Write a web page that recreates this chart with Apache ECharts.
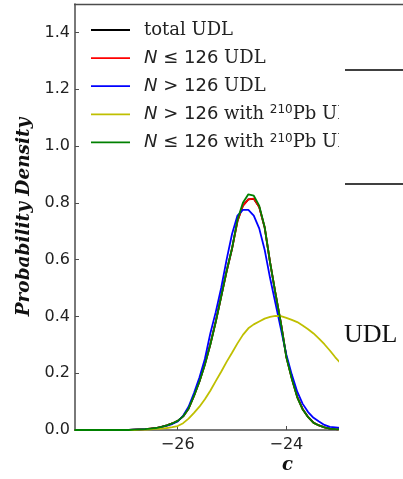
<!DOCTYPE html>
<html>
<head>
<meta charset="utf-8">
<script src="https://cdn.jsdelivr.net/npm/echarts@6/dist/echarts.min.js"></script>
<style>
  html, body { margin: 0; padding: 0; background: #fff; }
  #main { width: 403px; height: 479px; }
</style>
</head>
<body>
<div id="main"></div>
<script>
// bin centres of c
const cVals = [-27.9, -27.0, -26.9, -26.8, -26.7, -26.6, -26.5, -26.4, -26.3, -26.2, -26.1,
  -26.0, -25.9, -25.8, -25.7, -25.6, -25.5, -25.4, -25.3, -25.2, -25.1,
  -25.0, -24.9, -24.8, -24.7, -24.6, -24.5, -24.4, -24.3, -24.2, -24.1,
  -24.0, -23.9, -23.8, -23.7, -23.6, -23.5, -23.4, -23.3, -23.2, -23.1, -23.0]

// probability densities
const totalUDL = [0, 0.000, 0.000, 0.001, 0.002, 0.003, 0.005, 0.007, 0.011, 0.016, 0.023,
  0.032, 0.048, 0.076, 0.121, 0.172, 0.232, 0.302, 0.382, 0.470, 0.558,
  0.638, 0.736, 0.790, 0.812, 0.814, 0.785, 0.713, 0.590, 0.480, 0.376,
  0.258, 0.182, 0.117, 0.074, 0.046, 0.026, 0.016, 0.009, 0.005, 0.003, 0.002]
const lowUDL = [0, 0.000, 0.000, 0.001, 0.002, 0.003, 0.005, 0.007, 0.011, 0.016, 0.023,
  0.032, 0.048, 0.075, 0.120, 0.171, 0.231, 0.301, 0.381, 0.470, 0.559,
  0.639, 0.735, 0.790, 0.812, 0.815, 0.785, 0.714, 0.590, 0.480, 0.375,
  0.256, 0.181, 0.116, 0.073, 0.045, 0.025, 0.016, 0.009, 0.005, 0.003, 0.002]
const highUDL = [0, 0.000, 0.000, 0.001, 0.002, 0.003, 0.004, 0.006, 0.010, 0.015, 0.021,
  0.030, 0.050, 0.082, 0.130, 0.185, 0.250, 0.340, 0.415, 0.500, 0.600,
  0.690, 0.755, 0.775, 0.775, 0.755, 0.710, 0.635, 0.535, 0.445, 0.355,
  0.265, 0.195, 0.135, 0.092, 0.063, 0.043, 0.030, 0.018, 0.011, 0.009, 0.007]
const highPb = [0, 0.000, 0.000, 0.000, 0.001, 0.001, 0.002, 0.004, 0.005, 0.007, 0.010,
  0.014, 0.024, 0.040, 0.060, 0.082, 0.108, 0.138, 0.172, 0.205, 0.240,
  0.272, 0.305, 0.335, 0.358, 0.372, 0.382, 0.392, 0.398, 0.402, 0.401,
  0.395, 0.388, 0.380, 0.368, 0.355, 0.340, 0.322, 0.302, 0.280, 0.256, 0.235]
const lowPb = [0, 0.000, 0.000, 0.001, 0.002, 0.003, 0.005, 0.007, 0.011, 0.016, 0.023,
  0.032, 0.048, 0.075, 0.120, 0.170, 0.230, 0.300, 0.380, 0.470, 0.560,
  0.640, 0.740, 0.800, 0.830, 0.825, 0.790, 0.715, 0.590, 0.480, 0.375,
  0.255, 0.180, 0.115, 0.072, 0.045, 0.025, 0.016, 0.009, 0.005, 0.003, 0.002]

const xTicks = [-26, -24]
const yTicks = [0, 0.2, 0.4, 0.6, 0.8, 1.0, 1.2, 1.4]

const names = ['total UDL', 'N ≤ 126 UDL', 'N > 126 UDL', 'N > 126 with 210Pb UDL', 'N ≤ 126 with 210Pb UDL']
const colors = ['#000000', '#ff0000', '#0000ff', '#bfbf00', '#008000']
const values = [totalUDL, lowUDL, highUDL, highPb, lowPb]

const legendText = {
  'total UDL': '{s|total UDL}',
  'N ≤ 126 UDL': '{i|N}{m| ≤ 126 }{s|UDL}',
  'N > 126 UDL': '{i|N}{m| > 126 }{s|UDL}',
  'N > 126 with 210Pb UDL': '{i|N}{m| > 126 }{s|with }{sup|210}{s|Pb UDL}',
  'N ≤ 126 with 210Pb UDL': '{i|N}{m| ≤ 126 }{s|with }{sup|210}{s|Pb UDL}'
}

const minus = v => String(v).replace('-', '\u2212')
const axisColor = '#4d4d4d'

var myChart = echarts.init(document.getElementById('main'))

var option = {
  animation: false,
  grid: { left: 75, right: 65, top: 4, bottom: 49 },
  xAxis: {
    type: 'value',
    min: -27.89,
    max: -23.05,
    axisLine: { show: true, onZero: false, lineStyle: { color: axisColor, width: 1.5 } },
    axisTick: { show: true, inside: true, length: 4, customValues: xTicks, lineStyle: { color: axisColor } },
    axisLabel: {
      customValues: xTicks, formatter: minus, margin: 7,
      fontFamily: 'DejaVu Sans', fontSize: 16, color: '#222'
    },
    splitLine: { show: false }
  },
  yAxis: {
    type: 'value',
    min: 0,
    max: 1.5,
    name: 'Probability Density',
    nameLocation: 'middle',
    nameGap: 40,
    nameTextStyle: { fontFamily: 'DejaVu Serif', fontStyle: 'italic', fontWeight: 'bold', fontSize: 18.5, color: '#111' },
    axisLine: { show: true, lineStyle: { color: axisColor, width: 1.5 } },
    axisTick: { show: true, inside: true, length: 4, customValues: yTicks, lineStyle: { color: axisColor } },
    axisLabel: {
      customValues: yTicks, formatter: v => v.toFixed(1), margin: 5,
      fontFamily: 'DejaVu Sans', fontSize: 16, color: '#222'
    },
    splitLine: { show: false }
  },
  legend: {
    orient: 'vertical',
    left: 91,
    top: 20,
    padding: 0,
    icon: 'rect',
    itemWidth: 39,
    itemHeight: 1.8,
    itemGap: 8.1,
    itemStyle: { borderWidth: 0 },
    data: names,
    formatter: name => legendText[name],
    textStyle: {
      height: 20,
      lineHeight: 20,
      padding: [0, 0, 0, 9],
      rich: {
        s: { fontFamily: 'DejaVu Serif', fontSize: 18, color: '#222', lineHeight: 20 },
        i: { fontFamily: 'DejaVu Sans', fontStyle: 'italic', fontSize: 18, color: '#222', lineHeight: 20 },
        m: { fontFamily: 'DejaVu Sans', fontSize: 18, color: '#222', lineHeight: 20 },
        sup: { fontFamily: 'DejaVu Sans', fontSize: 12, color: '#222', lineHeight: 12, verticalAlign: 'top' }
      }
    }
  },
  series: names.map((name, k) => ({
    name: name,
    type: 'line',
    symbol: 'none',
    color: colors[k],
    lineStyle: { width: 1.8, color: colors[k] },
    data: cVals.map((c, i) => [c, values[k][i]])
  })),
  graphic: [
    // top spine
    { type: 'line', z: 100, shape: { x1: 74, y1: 4.5, x2: 403, y2: 4.5 }, style: { stroke: axisColor, lineWidth: 1.5 } },
    // cropped-away region on the right
    { type: 'rect', z: 100, shape: { x: 339, y: 6, width: 70, height: 480 }, style: { fill: '#fff' } },
    { type: 'line', z: 101, shape: { x1: 345, y1: 70, x2: 403, y2: 70 }, style: { stroke: '#000', lineWidth: 1.5 } },
    { type: 'line', z: 101, shape: { x1: 345, y1: 184, x2: 403, y2: 184 }, style: { stroke: '#000', lineWidth: 1.5 } },
    { type: 'text', z: 101, left: 344, top: 322, style: { text: 'UDL', font: '26px "Liberation Serif"', fill: '#111' } },
    // x axis name
    { type: 'text', z: 101, left: 282, top: 456, style: { text: 'c', font: 'italic bold 18px "DejaVu Serif"', fill: '#111' } }
  ]
}

myChart.setOption(option)
</script>
</body>
</html>
